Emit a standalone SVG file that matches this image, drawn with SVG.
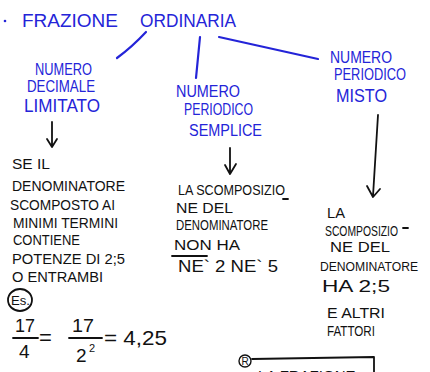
<svg xmlns="http://www.w3.org/2000/svg" width="430" height="372" viewBox="0 0 430 372">
<style>
text{font-family:"Liberation Sans","DejaVu Sans",sans-serif;}
.b{fill:#2424d8;font-size:16px;}
.t{fill:#2424d8;font-size:19px;}
.k{fill:#111;font-size:14px;}
.bl{stroke:#2424d8;stroke-width:2.2;fill:none;stroke-linecap:round;}
.kl{stroke:#111;stroke-width:1.8;fill:none;stroke-linecap:round;stroke-linejoin:round;}
</style>
<rect width="430" height="372" fill="#fff"/>
<g id="root">
<circle cx="5" cy="21" r="1.3" fill="#2424d8"/>
<text class="t" x="22" y="27" textLength="96" lengthAdjust="spacingAndGlyphs">FRAZIONE</text>
<text class="t" x="140" y="27" textLength="96" lengthAdjust="spacingAndGlyphs">ORDINARIA</text>
</g>
<g id="connectors">
<path class="bl" d="M146,32 Q132,47 117,58"/>
<path class="bl" d="M200,37 L196,78"/>
<path class="bl" d="M219,37 L318,59"/>
<path class="kl" d="M52,122 L52,146 M47,139 L52,147 L57,139"/>
<path class="kl" d="M230,148 L230,173 M225,165 L230,174 L236,164"/>
<path class="kl" d="M378,115 L373,196 M367,186 L373,197 L380,189"/>
</g>
<g id="decimale">
<text class="b" x="35" y="75" textLength="57" lengthAdjust="spacingAndGlyphs">NUMERO</text>
<text class="b" x="27" y="92" textLength="68" lengthAdjust="spacingAndGlyphs">DECIMALE</text>
<text class="b" x="24" y="112" style="font-size:18px" textLength="76" lengthAdjust="spacingAndGlyphs">LIMITATO</text>
</g>
<g id="semplice">
<text class="b" x="176" y="97" textLength="64" lengthAdjust="spacingAndGlyphs">NUMERO</text>
<text class="b" x="184" y="115" textLength="69" lengthAdjust="spacingAndGlyphs">PERIODICO</text>
<text class="b" x="189" y="136" textLength="73" lengthAdjust="spacingAndGlyphs">SEMPLICE</text>
</g>
<g id="misto">
<text class="b" x="330" y="63" textLength="62" lengthAdjust="spacingAndGlyphs">NUMERO</text>
<text class="b" x="334" y="80" textLength="72" lengthAdjust="spacingAndGlyphs">PERIODICO</text>
<text class="b" x="336" y="102" style="font-size:18px" textLength="51" lengthAdjust="spacingAndGlyphs">MISTO</text>
</g>
<g id="testo-decimale">
<text class="k" x="12" y="169" textLength="38" lengthAdjust="spacingAndGlyphs">SE IL</text>
<text class="k" x="12" y="191" textLength="113" lengthAdjust="spacingAndGlyphs">DENOMINATORE</text>
<text class="k" x="10" y="210" textLength="105" lengthAdjust="spacingAndGlyphs">SCOMPOSTO AI</text>
<text class="k" x="13" y="228" textLength="105" lengthAdjust="spacingAndGlyphs">MINIMI TERMINI</text>
<text class="k" x="13" y="245" textLength="67" lengthAdjust="spacingAndGlyphs">CONTIENE</text>
<text class="k" x="12" y="264" textLength="113" lengthAdjust="spacingAndGlyphs">POTENZE DI 2;5</text>
<text class="k" x="12" y="282" textLength="91" lengthAdjust="spacingAndGlyphs">O ENTRAMBI</text>
</g>
<g id="esempio">
<ellipse cx="20" cy="300" rx="12" ry="11" class="kl"/>
<text class="k" x="11" y="305" style="font-size:13px" textLength="19" lengthAdjust="spacingAndGlyphs">Es.</text>
<text class="k" x="15" y="332" style="font-size:19px" textLength="20" lengthAdjust="spacingAndGlyphs">17</text>
<path class="kl" d="M13,338 L38,338"/>
<text class="k" x="19" y="358" style="font-size:19px">4</text>
<text class="k" x="39" y="345" style="font-size:22px">=</text>
<text class="k" x="72" y="332" style="font-size:19px" textLength="22" lengthAdjust="spacingAndGlyphs">17</text>
<path class="kl" d="M69,338 L102,338"/>
<text class="k" x="76" y="362" style="font-size:19px">2</text>
<text class="k" x="89" y="352" style="font-size:11px">2</text>
<text class="k" x="104" y="345" style="font-size:21px" textLength="63" lengthAdjust="spacingAndGlyphs">= 4,25</text>
</g>
<g id="testo-semplice">
<text class="k" x="178" y="195" textLength="107" lengthAdjust="spacingAndGlyphs">LA SCOMPOSIZIO</text>
<path class="kl" d="M283,199 L288,199"/>
<text class="k" x="176" y="213" textLength="57" lengthAdjust="spacingAndGlyphs">NE DEL</text>
<text class="k" x="176" y="230" textLength="92" lengthAdjust="spacingAndGlyphs">DENOMINATORE</text>
<text class="k" x="174" y="250" textLength="66" lengthAdjust="spacingAndGlyphs">NON  HA</text>
<path class="kl" d="M172,256 L207,256"/>
<text class="k" x="178" y="272" style="font-size:17px" textLength="100" lengthAdjust="spacingAndGlyphs">NE` 2 NE` 5</text>
</g>
<g id="testo-misto">
<text class="k" x="327" y="218" textLength="18" lengthAdjust="spacingAndGlyphs">LA</text>
<text class="k" x="325" y="236" textLength="73" lengthAdjust="spacingAndGlyphs">SCOMPOSIZIO</text>
<path class="kl" d="M403,228 L408,228"/>
<text class="k" x="330" y="252" textLength="60" lengthAdjust="spacingAndGlyphs">NE DEL</text>
<text class="k" x="320" y="271" style="font-size:12px" textLength="98" lengthAdjust="spacingAndGlyphs">DENOMINATORE</text>
<text class="k" x="322" y="292" style="font-size:17px" textLength="68" lengthAdjust="spacingAndGlyphs">HA  2;5</text>
<text class="k" x="327" y="318" textLength="58" lengthAdjust="spacingAndGlyphs">E ALTRI</text>
<text class="k" x="327" y="336" textLength="48" lengthAdjust="spacingAndGlyphs">FATTORI</text>
</g>
<g id="regola">
<circle cx="245" cy="361" r="6" class="kl" style="stroke-width:1.4"/>
<text class="k" x="245" y="365" style="font-size:10px" text-anchor="middle">R</text>
<path class="kl" d="M252,359 L374,357 L374,372"/>
<text class="k" x="258" y="381" style="font-size:15px">LA  FRAZIONE</text>
</g>
</svg>
